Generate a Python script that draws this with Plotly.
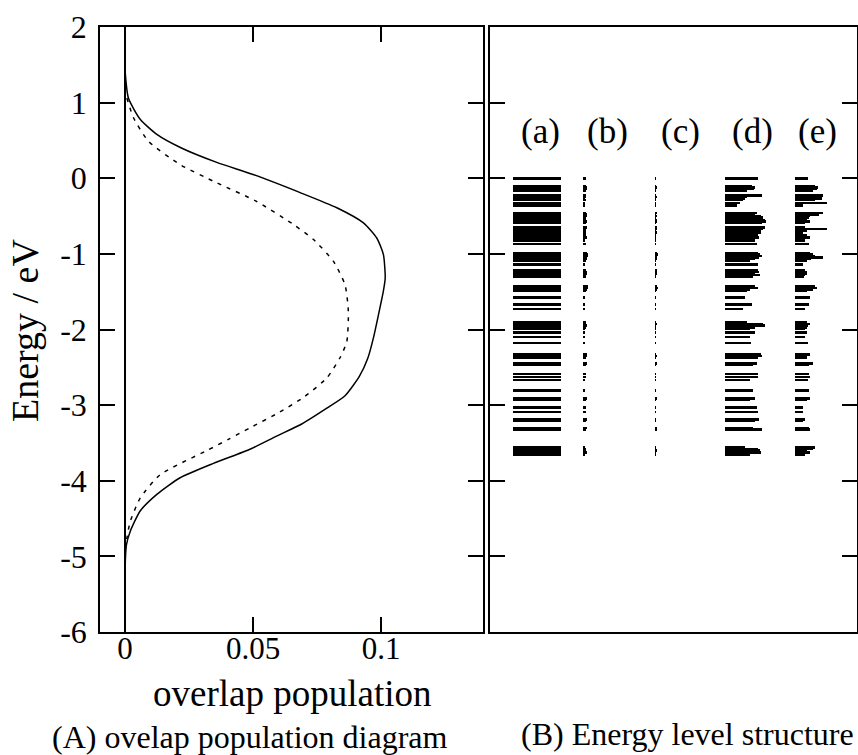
import plotly.graph_objects as go

# ---------------- data ----------------
# (A) overlap population curves (energy in eV, overlap population)
E_solid = [1.42, 1.06, 0.78, 0.58, 0.40, 0.21, 0.05, -0.19, -0.39, -0.59, -0.79, -1.01, -1.32,
           -1.49, -1.80, -2.11, -2.38, -2.62, -2.88, -3.04, -3.25, -3.41, -3.58, -3.77, -3.96,
           -4.18, -4.40, -4.67, -4.85, -5.15]
op_solid = [0.0, 0.0013, 0.0059, 0.0124, 0.0220, 0.0358, 0.0500, 0.0684, 0.0827, 0.0931, 0.0983,
            0.1009, 0.1016, 0.1009, 0.0990, 0.0970, 0.0948, 0.0915, 0.0858, 0.0788, 0.0690,
            0.0592, 0.0490, 0.0345, 0.0215, 0.0124, 0.0059, 0.0020, 0.0005, 0.0]

E_dash = [1.06, 0.80, 0.49, 0.18, -0.06, -0.30, -0.61, -0.81, -1.10, -1.41, -1.76, -2.16, -2.37,
          -2.64, -2.89, -3.10, -3.30, -3.45, -3.60, -3.92, -4.23, -4.54, -4.76, -4.92]
op_dash = [0.0007, 0.0033, 0.0091, 0.0215, 0.0358, 0.0510, 0.0657, 0.0736, 0.0814, 0.0859, 0.0872,
           0.0866, 0.0840, 0.0788, 0.0700, 0.0600, 0.0488, 0.0405, 0.0320, 0.0137, 0.0059,
           0.0020, 0.0007, 0.0]

x_tickvals = [0, 0.05, 0.1]
x_ticktext = ["0", "0.05", "0.1"]
y_tickvals = [-6, -5, -4, -3, -2, -1, 0, 1, 2]
y_ticktext = ["-6", "-5", "-4", "-3", "-2", "-1", "0", "1", "2"]

# (B) energy levels (eV) and line lengths for each column (a)-(e)
levels = [0.00, -0.01, -0.10, -0.12, -0.14, -0.16, -0.23, -0.25, -0.27, -0.29, -0.33, -0.36,
          -0.46, -0.48, -0.50, -0.52, -0.55, -0.57, -0.59, -0.65, -0.67, -0.69, -0.72, -0.75,
          -0.78, -0.82, -0.87, -0.99, -1.01, -1.03, -1.05, -1.07, -1.09, -1.14, -1.22, -1.24,
          -1.26, -1.28, -1.30, -1.43, -1.45, -1.47, -1.49, -1.58, -1.67, -1.73, -1.91, -1.93,
          -1.95, -1.97, -1.99, -2.04, -2.10, -2.18, -2.33, -2.35, -2.37, -2.45, -2.47, -2.59,
          -2.63, -2.67, -2.81, -2.91, -2.93, -3.03, -3.09, -3.19, -3.21, -3.30, -3.32, -3.56,
          -3.58, -3.60, -3.63, -3.65]
len_a = [48] * len(levels)
len_b = [3, 2, 3, 4, 4, 3, 3, 3, 2, 3, 2, 2, 3, 4, 4, 3, 3, 4, 3, 4, 3, 3, 3, 3,
         4, 2, 3, 4, 5, 5, 4, 4, 3, 2, 3, 4, 4, 3, 3, 5, 5, 4, 3, 2, 2, 2, 3, 3,
         4, 3, 2, 2, 2, 2, 4, 4, 3, 4, 3, 3, 3, 2, 2, 4, 3, 3, 3, 4, 3, 4, 3, 2,
         3, 3, 4, 2]
len_c = [1, 1, 1, 2, 1, 1, 1, 2, 1, 1, 1, 1, 2, 1, 2, 1, 2, 2, 1, 2, 2, 1, 2, 1,
         1, 1, 1, 2, 3, 2, 2, 2, 1, 1, 2, 1, 2, 1, 1, 2, 3, 2, 1, 1, 1, 1, 1, 2,
         1, 1, 1, 1, 1, 1, 1, 2, 1, 2, 1, 1, 1, 1, 1, 2, 1, 1, 1, 1, 1, 2, 2, 1,
         1, 2, 1, 1]
len_d = [33, 28, 27, 30, 29, 22, 37, 22, 20, 18, 15, 12, 32, 30, 36, 38, 40, 41, 37, 40, 38, 36,
         36, 33, 34, 30, 32, 33, 35, 37, 34, 30, 25, 33, 33, 34, 30, 35, 28, 30, 33, 25, 22, 20,
         27, 18, 22, 38, 40, 30, 25, 30, 25, 26, 36, 37, 33, 32, 28, 33, 33, 25, 28, 30, 25, 32,
         33, 34, 30, 28, 37, 20, 33, 35, 36, 25]
len_e = [13, 10, 20, 23, 22, 18, 28, 25, 27, 20, 32, 8, 28, 24, 15, 14, 12, 15, 10, 10, 32, 12,
         8, 12, 15, 10, 14, 15, 18, 20, 28, 16, 12, 8, 10, 12, 12, 10, 9, 20, 22, 18, 12, 15,
         14, 10, 12, 15, 13, 12, 10, 12, 10, 13, 15, 10, 12, 18, 14, 14, 15, 13, 14, 15, 12, 8,
         8, 10, 8, 14, 15, 20, 18, 12, 15, 10]
col_labels = ["(a)", "(b)", "(c)", "(d)", "(e)"]

# ---------------- layout helpers ----------------
W, H = 858, 755
FONT = "Liberation Serif"
col_starts = [22.7, 93, 165, 235, 305]      # x2-axis units (pixels of panel width)
col_label_x = [50, 117, 190, 262, 327]
col_label_E = 0.62


def px(x):
    return x / W


def py(y):
    return 1 - y / H


fig = go.Figure()
fig.add_trace(go.Scatter(x=op_solid, y=E_solid, mode="lines",
                         line=dict(color="black", width=1.5, shape="spline", smoothing=0.6),
                         xaxis="x", yaxis="y", showlegend=False, hoverinfo="skip"))
fig.add_trace(go.Scatter(x=op_dash, y=E_dash, mode="lines",
                         line=dict(color="black", width=1.5, dash="4px,6px", shape="spline",
                                   smoothing=0.6),
                         xaxis="x", yaxis="y", showlegend=False, hoverinfo="skip"))

for start, lens in zip(col_starts, [len_a, len_b, len_c, len_d, len_e]):
    fig.add_trace(go.Bar(orientation="h", y=levels, x=lens, base=start, width=0.034,
                         marker=dict(color="black", line=dict(width=0)),
                         xaxis="x2", yaxis="y2", showlegend=False, hoverinfo="skip"))

ydom = [1 - 632 / H, 1 - 27 / H]
axis_common = dict(showgrid=False, showline=True, linecolor="black", linewidth=1.5,
                   mirror="ticks", ticks="inside", tickcolor="black", tickwidth=1.5,
                   ticklen=15, automargin=False)

fig.update_layout(
    width=W, height=H,
    margin=dict(l=0, r=0, t=0, b=0),
    paper_bgcolor="white", plot_bgcolor="white",
    barmode="overlay", bargap=0,
    font=dict(family=FONT, color="black"),
    xaxis=dict(domain=[px(100), px(483)], range=[-0.0098, 0.1398], anchor="y",
               tickvals=x_tickvals, ticktext=x_ticktext,
               tickfont=dict(family=FONT, size=31, color="black"), ticklabelstandoff=-12,
               zeroline=True, zerolinecolor="black", zerolinewidth=1.5, **axis_common),
    yaxis=dict(domain=ydom, range=[-6, 2], anchor="x",
               tickvals=y_tickvals, ticktext=y_ticktext,
               tickfont=dict(family=FONT, size=32, color="black"), ticklabelstandoff=5,
               zeroline=False, **axis_common),
    xaxis2=dict(domain=[px(490), px(857)], range=[0, 367], anchor="y2",
                showgrid=False, showline=True, linecolor="black", linewidth=1.5, mirror=True,
                ticks="", showticklabels=False, zeroline=False, automargin=False),
    yaxis2=dict(domain=ydom, range=[-6, 2], anchor="x2", tickvals=y_tickvals,
                showticklabels=False, zeroline=False, **axis_common),
)

annotations = [
    dict(text="Energy / eV", x=px(25), y=py(331), xref="paper", yref="paper", textangle=-90,
         showarrow=False, font=dict(family=FONT, size=38, color="black"),
         xanchor="center", yanchor="middle"),
    dict(text="overlap population", x=px(292), y=py(693), xref="paper", yref="paper",
         showarrow=False, font=dict(family=FONT, size=37, color="black"),
         xanchor="center", yanchor="middle"),
    dict(text="(A) ovelap population diagram", x=px(250), y=py(737), xref="paper",
         yref="paper", showarrow=False, font=dict(family=FONT, size=32, color="black"),
         xanchor="center", yanchor="middle"),
    dict(text="(B) Energy level structure", x=px(687), y=py(734), xref="paper",
         yref="paper", showarrow=False, font=dict(family=FONT, size=32, color="black"),
         xanchor="center", yanchor="middle"),
]
for lab, lx in zip(col_labels, col_label_x):
    annotations.append(dict(text=lab, x=lx, y=col_label_E, xref="x2", yref="y2",
                            showarrow=False, font=dict(family=FONT, size=35, color="black"),
                            xanchor="center", yanchor="middle"))
fig.update_layout(annotations=annotations)

fig.write_html("out.html")
